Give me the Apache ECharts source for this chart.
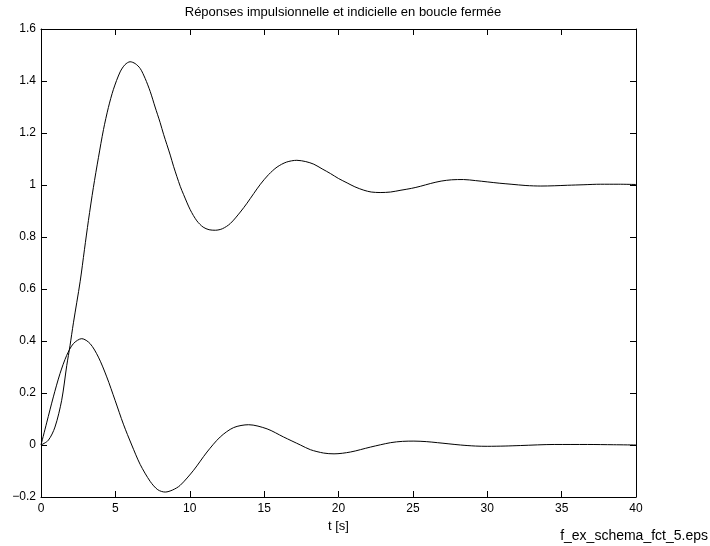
<!DOCTYPE html>
<html>
<head>
<meta charset="utf-8">
<script src="https://cdn.jsdelivr.net/npm/echarts@6/dist/echarts.min.js"></script>
<style>html,body{margin:0;padding:0;background:#fff}#c{width:710px;height:546px}</style>
</head>
<body>
<div id="c"></div>
<script>
var titleText = 'Réponses impulsionnelle et indicielle en boucle fermée';
var xName = 't [s]';
var fileNote = 'f_ex_schema_fct_5.eps';

var tStep = [0, 0.49, 0.94, 1.39, 1.73, 1.95, 2.18, 2.63, 2.92, 3.19, 3.52, 3.86, 4.2, 4.53, 4.87, 5.32, 5.65, 5.99, 6.33, 6.67, 7.0, 7.34, 7.67, 8.01, 8.24, 8.69, 8.91, 9.36, 9.58, 10.03, 10.48, 10.9, 11.3, 11.72, 12.2, 12.73, 13.4, 13.85, 14.3, 14.75, 15.3, 15.87, 16.5, 17.2, 17.8, 18.34, 18.9, 19.46, 20.0, 20.58, 21.1, 21.7, 22.2, 22.8, 23.5, 24.2, 24.9, 25.5, 26.2, 26.9, 27.6, 28.4, 29.2, 30.0, 30.8, 31.6, 32.6, 33.6, 34.5, 35.4, 36.5, 37.6, 38.8, 40];
var yStep = [0, 0.018, 0.069, 0.172, 0.305, 0.382, 0.47, 0.628, 0.751, 0.864, 0.99, 1.105, 1.213, 1.298, 1.368, 1.435, 1.463, 1.474, 1.467, 1.448, 1.41, 1.36, 1.30, 1.24, 1.195, 1.115, 1.072, 0.995, 0.964, 0.905, 0.862, 0.838, 0.828, 0.826, 0.832, 0.852, 0.896, 0.93, 0.967, 1.003, 1.04, 1.069, 1.088, 1.095, 1.09, 1.08, 1.062, 1.044, 1.025, 1.008, 0.993, 0.98, 0.973, 0.971, 0.973, 0.98, 0.987, 0.995, 1.006, 1.015, 1.02, 1.021, 1.017, 1.012, 1.007, 1.003, 0.998, 0.996, 0.997, 0.999, 1.001, 1.003, 1.003, 1.002];

var tImp = [0, 0.38, 0.83, 1.28, 1.73, 2.18, 2.74, 3.3, 3.86, 4.42, 4.98, 5.54, 6.1, 6.67, 7.34, 7.85, 8.35, 8.85, 9.36, 10.26, 11.16, 12.05, 12.95, 13.96, 15.2, 16.3, 17.44, 18.11, 19.0, 19.7, 20.8, 22.15, 23.5, 24.3, 25.07, 25.9, 26.65, 28.2, 29.2, 30.0, 31.2, 32.25, 34.5, 36.75, 38.5, 40];
var yImp = [0, 0.085, 0.185, 0.275, 0.345, 0.39, 0.409, 0.39, 0.338, 0.262, 0.172, 0.08, 0.0, -0.075, -0.14, -0.172, -0.181, -0.173, -0.155, -0.097, -0.027, 0.031, 0.067, 0.078, 0.062, 0.031, 0.0, -0.018, -0.031, -0.034, -0.027, -0.008, 0.009, 0.014, 0.015, 0.013, 0.009, 0.0, -0.004, -0.005, -0.004, -0.002, 0.002, 0.002, 0.001, 0.0];

function pairs(xs, ys) { return xs.map(function (x, i) { return [x, ys[i]]; }); }

var font = 'Liberation Sans, Arial, Helvetica, sans-serif';
var axisLine = { show: true, onZero: false, lineStyle: { color: '#000', width: 1 } };
var tick = { show: true, inside: true, length: 6, lineStyle: { color: '#000', width: 1 } };

var chart = echarts.init(document.getElementById('c'), null, { renderer: 'canvas' });
chart.setOption({
  animation: false,
  backgroundColor: '#fff',
  title: {
    text: titleText, left: 338, top: 1, textAlign: 'center',
    textStyle: { fontFamily: font, fontSize: 13, fontWeight: 'normal', color: '#000' }
  },
  graphic: [{
    type: 'text', right: 2, top: 529,
    style: { text: fileNote, fontFamily: font, fontSize: 14, fill: '#000' }
  }],
  grid: { left: 41, right: 74, top: 29, bottom: 49, show: false },
  xAxis: [{
    type: 'value', min: 0, max: 40, interval: 5, position: 'bottom',
    name: xName, nameLocation: 'middle', nameGap: 21,
    nameTextStyle: { fontFamily: font, fontSize: 13, color: '#000' },
    axisLine: axisLine, axisTick: tick, splitLine: { show: false },
    axisLabel: { fontFamily: font, fontSize: 12, color: '#000', margin: 6 }
  }, {
    type: 'value', min: 0, max: 40, interval: 5, position: 'top',
    axisLine: axisLine, axisTick: tick, splitLine: { show: false },
    axisLabel: { show: false }
  }],
  yAxis: [{
    type: 'value', min: -0.2, max: 1.6, interval: 0.2, position: 'left',
    axisLine: axisLine, axisTick: tick, splitLine: { show: false },
    axisLabel: { fontFamily: font, fontSize: 12, color: '#000', margin: 5,
      formatter: function (v) { return String(Math.round(v * 10) / 10).replace('-', '\u2212'); } }
  }, {
    type: 'value', min: -0.2, max: 1.6, interval: 0.2, position: 'right',
    axisLine: axisLine, axisTick: tick, splitLine: { show: false },
    axisLabel: { show: false }
  }],
  series: [{
    type: 'line', data: pairs(tStep, yStep), smooth: 0.3, showSymbol: false,
    lineStyle: { color: '#000', width: 1 }, xAxisIndex: 0, yAxisIndex: 0
  }, {
    type: 'line', data: pairs(tImp, yImp), smooth: 0.3, showSymbol: false,
    lineStyle: { color: '#000', width: 1 }, xAxisIndex: 0, yAxisIndex: 0
  }]
});
</script>
</body>
</html>
